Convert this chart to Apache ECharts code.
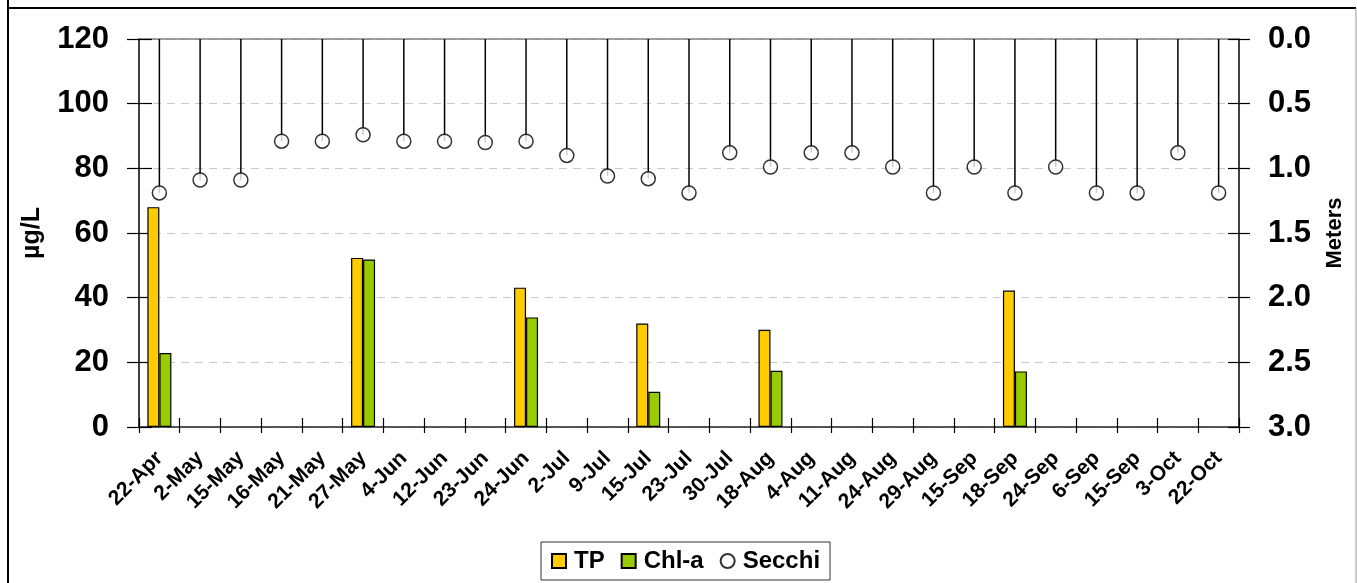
<!DOCTYPE html>
<html>
<head>
<meta charset="utf-8">
<script src="https://cdn.jsdelivr.net/npm/echarts@6/dist/echarts.min.js"></script>
<style>
html,body{margin:0;padding:0;background:#fff;}
#chart{width:1357px;height:583px;}
</style>
</head>
<body>
<div id="chart"></div>
<script>
var categories = ['22-Apr','2-May','15-May','16-May','21-May','27-May','4-Jun','12-Jun','23-Jun','24-Jun','2-Jul','9-Jul','15-Jul','23-Jul','30-Jul','18-Aug','4-Aug','11-Aug','24-Aug','29-Aug','15-Sep','18-Sep','24-Sep','6-Sep','15-Sep','3-Oct','22-Oct'];
var tpValues = [68.0,null,null,null,null,52.3,null,null,null,43.1,null,null,32.0,null,null,30.1,null,null,null,null,null,42.2,null,null,null,null,null];
var chlValues = [22.9,null,null,null,null,51.8,null,null,null,33.9,null,null,10.9,null,null,17.4,null,null,null,null,null,17.2,null,null,null,null,null];
var secchiValues = [1.19,1.09,1.09,0.79,0.79,0.74,0.79,0.79,0.80,0.79,0.90,1.06,1.08,1.19,0.88,0.99,0.88,0.88,0.99,1.19,0.99,1.19,0.99,1.19,1.19,0.88,1.19];
var leftTicks = {min:0, max:120, interval:20};
var rightTicks = {min:0, max:3, interval:0.5};

var FONT = 'Liberation Sans, Arial, sans-serif';
var chart = echarts.init(document.getElementById('chart'), null, {renderer:'canvas'});
var option = {
  backgroundColor:'#fff',
  animation:false,
  grid:{left:139, right:118, top:39, bottom:156, outerBoundsMode:'none'},
  legend:{
    left:541, top:542,
    data:[{name:'TP', icon:'rect'},{name:'Chl-a', icon:'rect'},{name:'Secchi', icon:'circle'}],
    itemWidth:14, itemHeight:14, itemGap:16,
    padding:[7,10,7,10],
    borderColor:'#333', borderWidth:1,
    textStyle:{fontFamily:FONT, fontWeight:'bold', fontSize:24, color:'#000', padding:[0,0,0,3]}
  },
  xAxis:[
    {type:'category', data:categories, position:'bottom', boundaryGap:true,
     axisLine:{show:true, onZero:false, lineStyle:{color:'#222', width:1.5}},
     axisTick:{show:true, interval:0, inside:false, length:6, lineStyle:{color:'#000', width:1.2}},
     axisLabel:{interval:0, rotate:45, margin:28, fontFamily:FONT, fontWeight:'bold', fontSize:21, color:'#000'},
     splitLine:{show:false}},
    {type:'category', data:categories, position:'bottom', boundaryGap:true,
     axisLine:{show:false, onZero:false},
     axisTick:{show:true, interval:0, inside:true, length:9, lineStyle:{color:'#000', width:1.2}},
     axisLabel:{show:false}, splitLine:{show:false}},
    {type:'category', data:categories, position:'top', boundaryGap:true,
     axisLine:{show:true, onZero:false, lineStyle:{color:'#808080', width:1.5}},
     axisTick:{show:false}, axisLabel:{show:false}, splitLine:{show:false}}
  ],
  yAxis:[
    {type:'value', position:'left', min:leftTicks.min, max:leftTicks.max, interval:leftTicks.interval,
     name:'µg/L', nameLocation:'middle', nameGap:94, nameRotate:90,
     nameTextStyle:{fontFamily:FONT, fontWeight:'bold', fontSize:25, color:'#000'},
     axisLine:{show:true, onZero:false, lineStyle:{color:'#000', width:1.5}},
     axisTick:{show:true, inside:false, length:12, lineStyle:{color:'#000', width:1.2}},
     axisLabel:{margin:30, fontFamily:FONT, fontWeight:'bold', fontSize:31, color:'#000'},
     splitLine:{show:true, lineStyle:{color:'#c8c8c8', width:1, type:[8,6]}}},
    {type:'value', position:'right', inverse:true, min:rightTicks.min, max:rightTicks.max, interval:rightTicks.interval,
     name:'Meters', nameLocation:'middle', nameGap:85, nameRotate:90,
     nameTextStyle:{fontFamily:FONT, fontWeight:'bold', fontSize:22, color:'#000'},
     axisLine:{show:true, onZero:false, lineStyle:{color:'#000', width:1.5}},
     axisTick:{show:true, inside:false, length:11, lineStyle:{color:'#000', width:1.2}},
     axisLabel:{margin:29, fontFamily:FONT, fontWeight:'bold', fontSize:31, color:'#000',
       formatter:function(v){return v.toFixed(1);}},
     splitLine:{show:false}},
    {type:'value', position:'left', min:leftTicks.min, max:leftTicks.max, interval:leftTicks.interval,
     axisLine:{show:false, onZero:false},
     axisTick:{show:true, inside:true, length:13, lineStyle:{color:'#000', width:1.2}},
     axisLabel:{show:false}, splitLine:{show:false}},
    {type:'value', position:'right', inverse:true, min:rightTicks.min, max:rightTicks.max, interval:rightTicks.interval,
     axisLine:{show:false, onZero:false},
     axisTick:{show:true, inside:true, length:11, lineStyle:{color:'#000', width:1.2}},
     axisLabel:{show:false}, splitLine:{show:false}}
  ],
  series:[
    {name:'TP', type:'bar', xAxisIndex:0, yAxisIndex:0, data:tpValues, barWidth:12, barGap:'0%',
     itemStyle:{color:'#FFCC00', borderColor:'#000', borderWidth:1.2}, z:3},
    {name:'Chl-a', type:'bar', xAxisIndex:0, yAxisIndex:0, data:chlValues, barWidth:12, barGap:'0%',
     itemStyle:{color:'#99CC00', borderColor:'#000', borderWidth:1.2}, z:3},
    {name:'SecchiDrop', type:'bar', xAxisIndex:1, yAxisIndex:1, data:secchiValues, barWidth:1.5,
     itemStyle:{color:'#000'}, silent:true, z:4},
    {name:'Secchi', type:'scatter', xAxisIndex:1, yAxisIndex:1, data:secchiValues, symbol:'circle', symbolSize:14,
     itemStyle:{color:'#fff', borderColor:'#000', borderWidth:1.5}, z:5}
  ],
  graphic:[
    {type:'line', shape:{x1:8, y1:0, x2:8, y2:583}, style:{stroke:'#000', lineWidth:2}, silent:true},
    {type:'line', shape:{x1:7, y1:8, x2:1356, y2:8}, style:{stroke:'#000', lineWidth:2}, silent:true},
    {type:'line', shape:{x1:1356, y1:8, x2:1356, y2:583}, style:{stroke:'#999', lineWidth:1}, silent:true}
  ]
};
chart.setOption(option);
</script>
</body>
</html>
